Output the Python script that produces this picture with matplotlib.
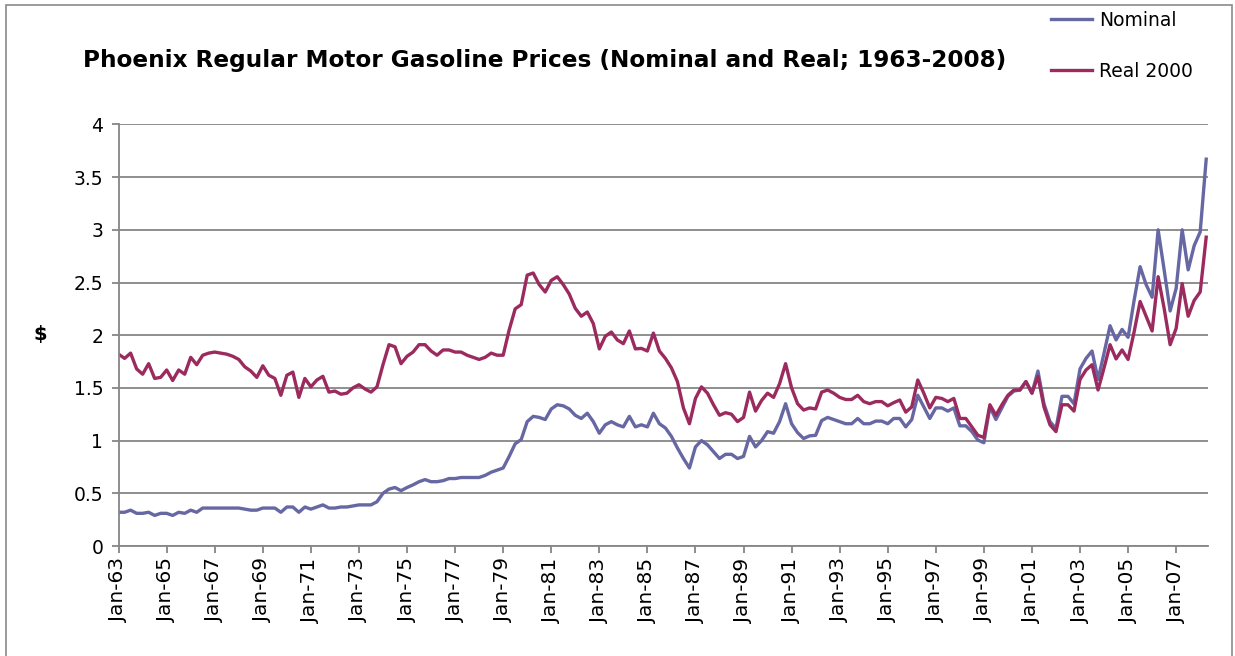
import matplotlib
matplotlib.use('Agg')
import matplotlib.pyplot as plt
from matplotlib.patches import Rectangle
import numpy as np

# quarterly prices, Jan-63 .. Apr-08 ($/gal)
nominal = [
    0.32, 0.32, 0.34, 0.31, 0.31, 0.32, 0.29, 0.31, 0.31, 0.29,
    0.32, 0.31, 0.34, 0.32, 0.36, 0.36, 0.36, 0.36, 0.36, 0.36,
    0.36, 0.35, 0.34, 0.34, 0.36, 0.36, 0.36, 0.32, 0.37, 0.37,
    0.32, 0.37, 0.35, 0.37, 0.39, 0.36, 0.36, 0.37, 0.37, 0.38,
    0.39, 0.39, 0.39, 0.42, 0.50, 0.54, 0.555, 0.525, 0.555, 0.58,
    0.61, 0.63, 0.61, 0.61, 0.62, 0.64, 0.64, 0.65, 0.65, 0.65,
    0.65, 0.67, 0.70, 0.72, 0.74, 0.85, 0.97, 1.01, 1.18, 1.23,
    1.22, 1.20, 1.30, 1.34, 1.33, 1.30, 1.24, 1.21, 1.26, 1.18,
    1.07, 1.15, 1.18, 1.15, 1.13, 1.23, 1.13, 1.15, 1.13, 1.26,
    1.16, 1.12, 1.04, 0.93, 0.83, 0.74, 0.94, 1.00, 0.96, 0.895,
    0.83, 0.87, 0.87, 0.83, 0.85, 1.04, 0.94, 1.00, 1.085, 1.07,
    1.18, 1.35, 1.16, 1.075, 1.02, 1.045, 1.05, 1.19, 1.22, 1.20,
    1.18, 1.16, 1.16, 1.21, 1.16, 1.16, 1.185, 1.185, 1.16, 1.21,
    1.21, 1.13, 1.20, 1.43, 1.32, 1.21, 1.31, 1.31, 1.28, 1.31,
    1.14, 1.14, 1.085, 1.005, 0.98, 1.32, 1.20, 1.31, 1.42, 1.47,
    1.48, 1.56, 1.45, 1.66, 1.35, 1.18, 1.115, 1.42, 1.42, 1.35,
    1.68, 1.78, 1.85, 1.58, 1.83, 2.09, 1.955, 2.055, 1.98, 2.33,
    2.65, 2.48, 2.36, 3.00, 2.62, 2.23, 2.445, 3.00, 2.62, 2.85,
    2.98, 3.67,
]

real_2000 = [
    1.82, 1.78, 1.83, 1.68, 1.63, 1.73, 1.59, 1.60, 1.67, 1.57,
    1.67, 1.63, 1.79, 1.72, 1.81, 1.83, 1.84, 1.83, 1.82, 1.80,
    1.77, 1.70, 1.66, 1.60, 1.71, 1.62, 1.59, 1.43, 1.62, 1.65,
    1.41, 1.59, 1.51, 1.575, 1.61, 1.46, 1.47, 1.44, 1.45, 1.50,
    1.53, 1.49, 1.46, 1.51, 1.72, 1.91, 1.89, 1.73, 1.80, 1.84,
    1.91, 1.91, 1.85, 1.81, 1.86, 1.86, 1.84, 1.84, 1.81, 1.79,
    1.77, 1.79, 1.83, 1.81, 1.81, 2.05, 2.25, 2.29, 2.57, 2.59,
    2.48, 2.41, 2.52, 2.555, 2.48, 2.39, 2.255, 2.18, 2.22, 2.11,
    1.87, 1.99, 2.03, 1.955, 1.92, 2.04, 1.87, 1.875, 1.85, 2.02,
    1.85, 1.78, 1.69, 1.56, 1.31, 1.16, 1.40, 1.51, 1.45, 1.34,
    1.24, 1.265, 1.25, 1.18, 1.22, 1.46, 1.28, 1.38, 1.45, 1.41,
    1.54, 1.73, 1.50, 1.35, 1.29, 1.31, 1.30, 1.46, 1.48, 1.45,
    1.41, 1.39, 1.39, 1.43, 1.37, 1.35, 1.37, 1.37, 1.33, 1.36,
    1.385, 1.27, 1.32, 1.575, 1.45, 1.31, 1.41, 1.40, 1.37, 1.40,
    1.21, 1.21, 1.13, 1.05, 1.03, 1.34, 1.24, 1.34, 1.43, 1.48,
    1.48, 1.56, 1.45, 1.61, 1.32, 1.15, 1.085, 1.34, 1.34, 1.28,
    1.58, 1.67, 1.72, 1.48, 1.69, 1.91, 1.775, 1.86, 1.77, 2.03,
    2.32, 2.18, 2.04, 2.555, 2.255, 1.91, 2.065, 2.49, 2.18, 2.33,
    2.41, 2.93,
]

tick_labels = ['Jan-63', 'Jan-65', 'Jan-67', 'Jan-69', 'Jan-71', 'Jan-73',
               'Jan-75', 'Jan-77', 'Jan-79', 'Jan-81', 'Jan-83', 'Jan-85',
               'Jan-87', 'Jan-89', 'Jan-91', 'Jan-93', 'Jan-95', 'Jan-97',
               'Jan-99', 'Jan-01', 'Jan-03', 'Jan-05', 'Jan-07']

W, H = 1235, 656
fig = plt.figure(figsize=(W / 100, H / 100), dpi=100)
fig.patch.set_facecolor('white')

# chart-area frame
fig.patches.append(Rectangle((6 / W, -0.1), 1226 / W, 1.1 - 5 / H,
                             transform=fig.transFigure, fill=False,
                             edgecolor='#8a8a8a', lw=1.2))

ax = fig.add_axes([118.6 / W, 1 - 546 / H, (1208 - 118.6) / W, (546 - 124.4) / H])

grey = '#868686'
x = np.arange(len(nominal))
ax.plot(x, nominal, color='#6667A3', lw=2.4, label='Nominal', solid_joinstyle='round')
ax.plot(x, real_2000, color='#9B2B5E', lw=2.4, label='Real 2000', solid_joinstyle='round')

ax.set_xlim(0, 181.3)
ax.set_ylim(0, 4)
ax.set_yticks(np.arange(0, 4.01, 0.5))
ax.set_yticklabels(['0', '0.5', '1', '1.5', '2', '2.5', '3', '3.5', '4'])
ax.set_xticks(np.arange(0, 8 * len(tick_labels), 8))
ax.set_xticklabels(tick_labels, rotation=90)
ax.grid(axis='y', color=grey, lw=1.3)
ax.set_axisbelow(True)

for s in ['top', 'right']:
    ax.spines[s].set_visible(False)
for s in ['left', 'bottom']:
    ax.spines[s].set_color(grey)
    ax.spines[s].set_linewidth(1.3)
ax.tick_params(axis='both', colors=grey, direction='out', length=5, width=1.3,
               labelcolor='black', labelsize=13.5)
ax.tick_params(axis='x', pad=4, labelsize=14.5)
ax.tick_params(axis='y', pad=6)

fig.text(40 / W, 1 - 335 / H, '$', ha='center', va='center',
         fontsize=14, fontweight='bold')

fig.text(545 / W, 1 - 60 / H,
         'Phoenix Regular Motor Gasoline Prices (Nominal and Real; 1963-2008)',
         ha='center', va='center', fontsize=16.7, fontweight='bold')

fig.legend(loc='upper left', bbox_to_anchor=(1034 / W, 1 + 6 / H), frameon=False,
           fontsize=13.5, handlelength=2.2, handletextpad=0.35, labelspacing=1.7)

fig.savefig('out.png', dpi=100)
